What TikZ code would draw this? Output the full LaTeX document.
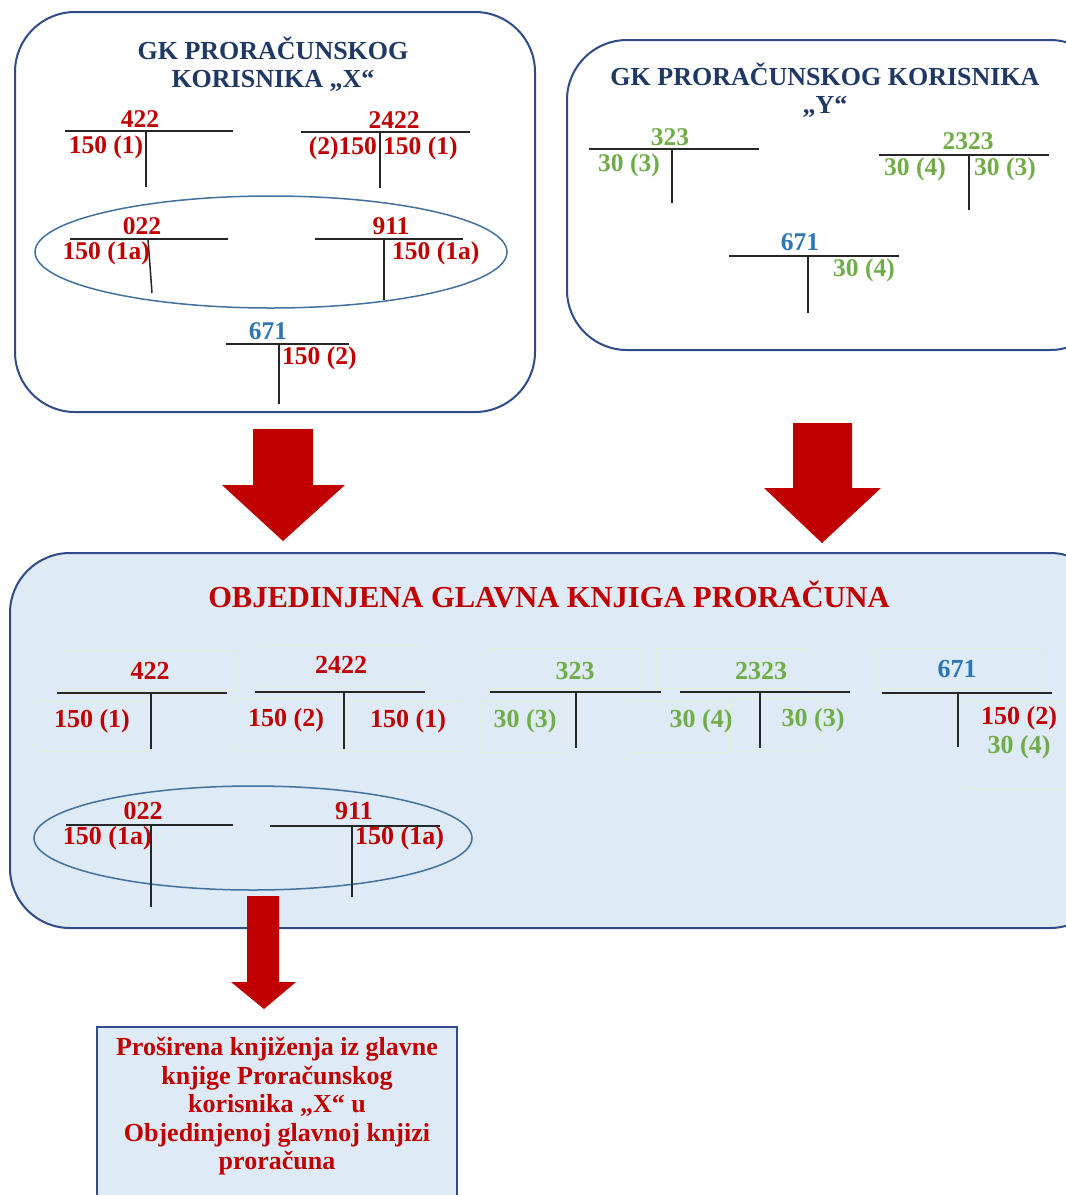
\documentclass[tikz,border=0pt]{standalone}
\usepackage{fontspec}
\setmainfont{Liberation Serif}
\definecolor{xred}{HTML}{C00000}
\definecolor{xgreen}{HTML}{70AD47}
\definecolor{xblue}{HTML}{2E75B6}
\definecolor{xnavy}{HTML}{1F3864}
\definecolor{xborder}{HTML}{2F4B8A}
\definecolor{xell}{HTML}{41719C}
\definecolor{xfill}{HTML}{DEEAF6}
\definecolor{xfaint}{HTML}{E2EFD9}
\begin{document}
\begin{tikzpicture}[x=1pt,y=-1pt,
  txt/.style={font=\fontsize{25.5}{28}\selectfont\bfseries, inner sep=0pt},
  mtxt/.style={font=\fontsize{26}{29}\selectfont\bfseries, inner sep=0pt},
  ttl/.style={font=\fontsize{26}{28.5}\selectfont\bfseries, text=xnavy, align=center, inner sep=0pt},
  tline/.style={line width=1.5pt, black!85},
  gbox/.style={rounded corners=60pt, line width=2pt, draw=xborder},
  ell/.style={line width=1.5pt, draw=xell},
  bigarrow/.style={fill=xred, draw=none},
  faint/.style={draw=xfaint, line width=0.8pt}]
\clip (0,0) rectangle (1066,1195);
\fill[white] (0,0) rectangle (1066,1195);

% ---------------- Top-left box -------------
\draw[gbox] (15,12) rectangle (535,412);
\node[ttl] (tX) at (273,64) {GK PRORAČUNSKOG\\KORISNIKA „X“};
% 422
\node[txt, text=xred] (a422) at (140,119) {422};
\draw[tline] (65,131) -- (233,131);
\draw[tline] (146,131) -- (146,187);
\node[txt, text=xred] (a422d) at (106,147) {150 (1)};
% 2422
\node[txt, text=xred] (a2422) at (394,120) {2422};
\draw[tline] (301,132) -- (470,132);
\draw[tline] (380,132) -- (380,188);
\node[txt, text=xred, anchor=east] (a2422d) at (377,148) {(2)150};
\node[txt, text=xred, anchor=west] (a2422c) at (383,148) {150 (1)};
% ellipse
\draw[ell] (271,252) ellipse [x radius=236, y radius=56];
% 022
\node[txt, text=xred] (a022) at (142,226) {022};
\draw[tline] (70,239) -- (228,239);
\draw[tline] (148,239) -- (152,293);
\node[txt, text=xred, anchor=east] (a022d) at (150,253) {150 (1a)};
% 911
\node[txt, text=xred] (a911) at (391,226) {911};
\draw[tline] (315,239) -- (463,239);
\draw[tline] (384,239) -- (384,300);
\node[txt, text=xred, anchor=west] (a911c) at (392,253) {150 (1a)};
% 671
\node[txt, text=xblue] (a671) at (268,331) {671};
\draw[tline] (226,344) -- (349,344);
\draw[tline] (279,344) -- (279,404);
\node[txt, text=xred, anchor=west] (a671c) at (282,358) {150 (2)};

% ---------------- Top-right box -------------
\draw[gbox] (567,40) rectangle (1110,350);
\node[ttl] (tY) at (825,90) {GK PRORAČUNSKOG KORISNIKA\\„Y“};
% 323
\node[txt, text=xgreen] (b323) at (670,137) {323};
\draw[tline] (589,149) -- (759,149);
\draw[tline] (672,149) -- (672,203);
\node[txt, text=xgreen] (b323d) at (629,165) {30 (3)};
% 2323
\node[txt, text=xgreen] (b2323) at (968,141) {2323};
\draw[tline] (879,155) -- (1049,155);
\draw[tline] (969,155) -- (969,210);
\node[txt, text=xgreen] (b2323d) at (915,169) {30 (4)};
\node[txt, text=xgreen] (b2323c) at (1005,169) {30 (3)};
% 671
\node[txt, text=xblue] (b671) at (800,242) {671};
\draw[tline] (729,256) -- (899,256);
\draw[tline] (808,256) -- (808,313);
\node[txt, text=xgreen] (b671c) at (864,270) {30 (4)};

% ---------------- Big arrows -------------
\fill[bigarrow] (253,429) -- (313,429) -- (313,485) -- (345,485) -- (283,541) -- (222,485) -- (253,485) -- cycle;
\fill[bigarrow] (793,423) -- (852,423) -- (852,488) -- (881,488) -- (822,543) -- (764,488) -- (793,488) -- cycle;

% ---------------- Middle box -------------
\draw[gbox, fill=xfill] (10,553) rectangle (1110,928);
\node[font=\fontsize{30.5}{34}\selectfont\bfseries, text=xred, inner sep=0pt] (tM) at (549,594) {OBJEDINJENA GLAVNA KNJIGA PRORAČUNA};
% faint text frames
\draw[faint] (63,650) rectangle (237,690);
\draw[faint] (38,700) rectangle (150,751);
\draw[faint] (262,645) rectangle (422,686);
\draw[faint] (233,698) rectangle (344,750);
\draw[faint] (347,700) rectangle (463,751);
\draw[faint] (490,648) rectangle (640,688);
\draw[faint] (480,700) rectangle (565,752);
\draw[faint] (656,648) rectangle (806,688);
\draw[faint] (628,700) rectangle (728,752);
\draw[faint] (733,698) rectangle (822,750);
\draw[faint] (875,648) rectangle (1043,688);
\draw[faint] (965,700) rectangle (1080,788);
% 422
\node[mtxt, text=xred] (m422) at (150,671) {422};
\draw[tline] (57,693) -- (227,693);
\draw[tline] (151,693) -- (151,749);
\node[mtxt, text=xred] (m422d) at (92,721) {150 (1)};
% 2422
\node[mtxt, text=xred] (m2422) at (341,665) {2422};
\draw[tline] (255,692) -- (425,692);
\draw[tline] (344,692) -- (344,749);
\node[mtxt, text=xred] (m2422d) at (286,720) {150 (2)};
\node[mtxt, text=xred] (m2422c) at (408,721) {150 (1)};
% 323
\node[mtxt, text=xgreen] (m323) at (575,671) {323};
\draw[tline] (490,692) -- (661,692);
\draw[tline] (576,692) -- (576,748);
\node[mtxt, text=xgreen] (m323d) at (525,721) {30 (3)};
% 2323
\node[mtxt, text=xgreen] (m2323) at (761,671) {2323};
\draw[tline] (680,692) -- (850,692);
\draw[tline] (760,692) -- (760,748);
\node[mtxt, text=xgreen] (m2323d) at (701,721) {30 (4)};
\node[mtxt, text=xgreen] (m2323c) at (813,720) {30 (3)};
% 671
\node[mtxt, text=xblue] (m671) at (957,669) {671};
\draw[tline] (882,693) -- (1052,693);
\draw[tline] (958,693) -- (958,747);
\node[mtxt, text=xred] (m671c1) at (1019,718) {150 (2)};
\node[mtxt, text=xgreen] (m671c2) at (1019,747) {30 (4)};
% ellipse
\draw[ell] (253,838) ellipse [x radius=219, y radius=52];
% 022
\node[mtxt, text=xred] (m022) at (143,811) {022};
\draw[tline] (66,825) -- (233,825);
\draw[tline] (151,825) -- (151,907);
\node[mtxt, text=xred, anchor=east] (m022d) at (152,838) {150 (1a)};
% 911
\node[mtxt, text=xred] (m911) at (354,811) {911};
\draw[tline] (270,826) -- (440,826);
\draw[tline] (352,826) -- (352,897);
\node[mtxt, text=xred, anchor=west] (m911c) at (355,838) {150 (1a)};

% ---------------- Bottom arrow and box -------------
\fill[bigarrow] (247,896) -- (279,896) -- (279,982) -- (296,982) -- (264,1009) -- (231,982) -- (247,982) -- cycle;
\draw[line width=2pt, draw=xborder, fill=xfill] (97,1027) rectangle (457,1210);
\node[font=\fontsize{26}{28.5}\selectfont\bfseries, text=xred, align=center, inner sep=0pt, anchor=north] (note) at (277,1037)
  {Proširena knjiženja iz glavne\\knjige Proračunskog\\korisnika „X“ u\\Objedinjenoj glavnoj knjizi\\proračuna};
\end{tikzpicture}
\end{document}
